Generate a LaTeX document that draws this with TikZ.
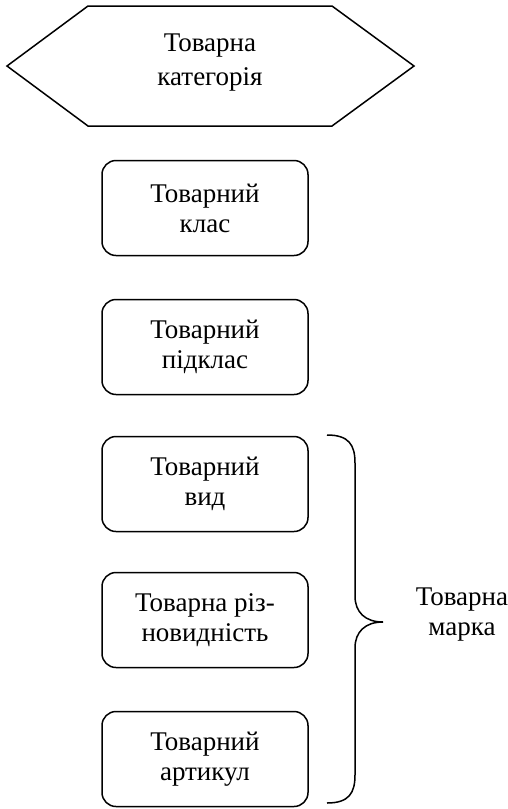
\documentclass[tikz,border=0pt]{standalone}
\usepackage{fontspec}
\setmainfont{Liberation Serif}
\begin{document}
\begin{tikzpicture}[x=1pt,y=-1pt,
  line width=1.5pt,
  every node/.style={font=\fontsize{27}{30}\selectfont, align=center},
  rbox/.style={draw, rounded corners=14pt, minimum width=206pt, minimum height=95pt, inner sep=0pt}]
\useasboundingbox (0,0) rectangle (507,809);
% hexagon
\draw[line join=miter] (7,66) -- (88,6) -- (332,6) -- (414,66) -- (332,126) -- (88,126) -- cycle;
\node[font=\fontsize{27}{34}\selectfont] (cat) at (210,63) {Товарна\\категорія};
% boxes
\node[rbox] (klas) at (205,208) {Товарний\\клас};
\node[rbox] (pidklas) at (205,347) {Товарний\\підклас};
\node[rbox] (vyd) at (205,484) {Товарний\\вид};
\node[rbox] (rizn) at (205,620) {Товарна різ-\\новидність};
\node[rbox] (art) at (205,759) {Товарний\\артикул};
% brace
\draw (327,435) .. controls (349,435) and (355,445) .. (355,463) -- (355,596)
  .. controls (355,612) and (365,622) .. (383,622)
  .. controls (365,622) and (355,632) .. (355,648) -- (355,775)
  .. controls (355,793) and (349,803) .. (327,803);
\node (marka) at (462,615) {Товарна\\марка};
\end{tikzpicture}
\end{document}
